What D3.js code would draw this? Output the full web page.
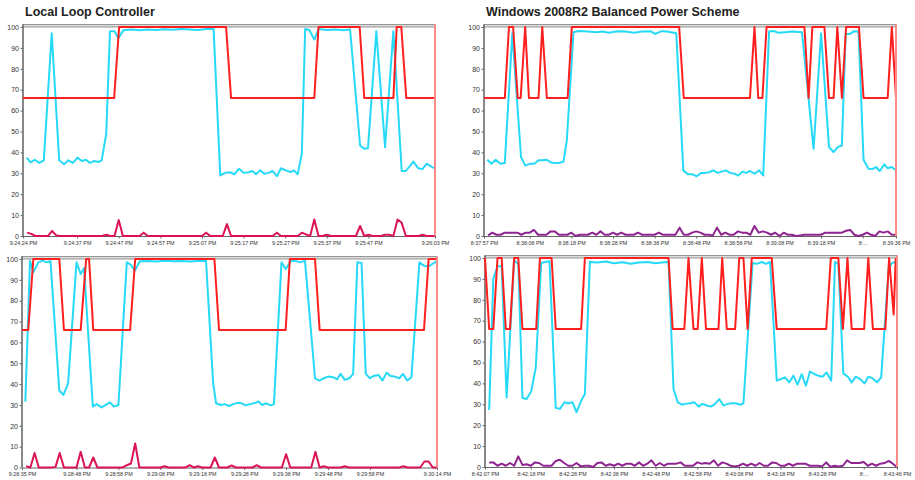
<!DOCTYPE html>
<html>
<head>
<meta charset="utf-8">
<script src="https://cdn.jsdelivr.net/npm/d3@7"></script>
<style>
  body { margin: 0; background: #fff; }
  svg { display: block; }
</style>
</head>
<body>
<div id="chart"></div>
<script>
// ---- data (seconds from window start, value in %) ----
var titles = ["Local Loop Controller", "Windows 2008R2 Balanced Power Scheme", "", ""];
var startTimes = ["9:24:24 PM", "8:37:57 PM", "9:28:35 PM", "8:42:07 PM"];
var endTimes = ["9:26:03 PM", "8:39:36 PM", "9:30:14 PM", "8:43:46 PM"];
var yTicks = [0, 10, 20, 30, 40, 50, 60, 70, 80, 90, 100];

var tickTimes1 = ["9:24:24 PM","9:24:37 PM","9:24:47 PM","9:24:57 PM","9:25:07 PM","9:25:17 PM","9:25:27 PM","9:25:37 PM","9:25:47 PM","9:26:03 PM"];
var tickLabels1 = tickTimes1;
var tickTimes2 = ["8:37:57 PM","8:38:08 PM","8:38:18 PM","8:38:28 PM","8:38:38 PM","8:38:48 PM","8:38:58 PM","8:39:08 PM","8:39:18 PM","8:39:28 PM","8:39:36 PM"];
var tickLabels2 = ["8:37:57 PM","8:38:08 PM","8:38:18 PM","8:38:28 PM","8:38:38 PM","8:38:48 PM","8:38:58 PM","8:39:08 PM","8:39:18 PM","8:...","8:39:36 PM"];
var tickTimes3 = ["9:28:35 PM","9:28:48 PM","9:28:58 PM","9:29:08 PM","9:29:18 PM","9:29:28 PM","9:29:38 PM","9:29:48 PM","9:29:58 PM","9:30:14 PM"];
var tickLabels3 = tickTimes3;
var tickTimes4 = ["8:42:07 PM","8:42:18 PM","8:42:28 PM","8:42:38 PM","8:42:48 PM","8:42:58 PM","8:43:08 PM","8:43:18 PM","8:43:28 PM","8:43:38 PM","8:43:46 PM"];
var tickLabels4 = ["8:42:07 PM","8:42:18 PM","8:42:28 PM","8:42:38 PM","8:42:48 PM","8:42:58 PM","8:43:08 PM","8:43:18 PM","8:43:28 PM","8:...","8:43:46 PM"];

// cpu usage (cyan)
var cpu1 = [[0.9,37.5],[1.8,35.2],[2.8,36.5],[3.9,35],[5,36.2],[6.9,97],[8.7,36.2],[9.9,34.3],[10.9,36.2],[12,35],[13.1,37.5],[14.1,35.9],[15.1,36.5],[16.1,35],[17.1,35.9],[18.1,35.4],[18.9,36.2],[20,48.9],[20.9,98],[22,98],[22.9,94.6],[24.1,98.4],[26,98.8],[28,98.5],[30,98.8],[32,98.6],[34,98.9],[36,98.7],[38,99],[40,98.8],[42,98.6],[44,99],[45.8,99],[47.4,29],[48.6,30.2],[49.8,30.5],[50.8,29.5],[51.9,32.2],[53,30.2],[54.2,30.5],[55.1,31.1],[56,29.5],[57,31.4],[58,29.8],[59,30.2],[60,31.1],[61,28.6],[62,32.4],[63.2,31.4],[64.2,30.6],[65.1,31.4],[66,29.5],[67,39.4],[67.8,99],[68.8,98.6],[70,94],[71,99],[73,98.6],[75,98.8],[77,98.5],[78.6,98.8],[81,43.3],[82,41.7],[82.9,42],[84.9,98],[87,42.5],[89,98],[91,31.1],[92,31.1],[93.8,35.6],[95,32.4],[96,32],[97,34.6],[98,33.3],[98.8,32.5]];
var cpu2 = [[0.8,36.5],[1.8,34.6],[2.8,36.5],[3.9,34.6],[5,34.9],[6.8,97],[8.9,37.8],[9.9,33.7],[11.1,34.6],[12.1,34.6],[13.1,36.2],[14,36.2],[15.1,36.5],[16.1,35.2],[17.1,34.9],[18,34.9],[19.1,35.6],[19.9,45.7],[21.5,97.5],[22.7,98.1],[25,97.8],[27,97.5],[28.5,97.8],[30,97.3],[32,98],[34,97.8],[36,97.3],[38,97.8],[40,98],[41.1,96.7],[42.7,98],[44,97.8],[46.2,97],[47.9,31.4],[49,29.5],[50.1,29.5],[51.1,28.6],[52.2,30.2],[53.1,30.2],[54.1,30.5],[55.1,31.4],[56.1,30.2],[57.1,30.8],[58.1,31.4],[59.1,30.2],[60.2,29.8],[61.1,28.9],[62.1,30.8],[63,30.2],[63.9,31.1],[65,29.8],[66.1,31.4],[67.1,29],[68.5,97.8],[69.6,98.1],[70.8,97.2],[72.4,97.5],[74,97.8],[76.4,97.5],[79.2,41.7],[81,97],[82.9,42.5],[84,40.2],[85,42.5],[86,43.3],[86.9,96.7],[88,96.7],[88.9,98],[90,97.8],[91.2,36.5],[92.4,32.2],[93.3,32],[94.2,33],[95.1,31.1],[96.2,34.3],[97,32.4],[98,33],[99,31.4]];
var cpu3 = [[0.8,31.6],[1.9,99.2],[2.7,93.6],[3.9,98.4],[4.9,99.2],[5.9,98.4],[6.8,98.9],[8.9,36.9],[9.9,34.8],[11,40.4],[13,98.4],[14,92.8],[14.8,95.7],[16.9,29.2],[17.8,30.4],[19,28.8],[20,30],[21,31.2],[21.9,29.2],[23,30],[25,98.4],[25.9,97.3],[26.9,94.4],[28.1,98.9],[30,99],[32,98.8],[34,99.2],[36,98.9],[38,99],[40,98.8],[42,99],[43.9,99],[45.6,40.4],[46.3,30.8],[47.4,30],[48.4,30.4],[49.4,29.5],[50.4,30.4],[51.4,31],[52.4,30.8],[53.4,29.8],[54.4,30.4],[55.3,30.8],[56.4,31.6],[57.3,30],[58.3,30.8],[59.3,29.8],[60.1,30.4],[61.9,98.4],[62.9,95.2],[64.1,98.9],[65.1,99.2],[66.3,98.4],[67.5,99.2],[69.9,42.8],[70.9,41.7],[72,42.8],[73,43.6],[74.2,43.3],[75.2,42.3],[76,44.9],[77,42],[78.1,42.8],[79,44.9],[80,98.4],[81,98.1],[82,44.9],[83,42.8],[83.9,43.9],[85,44.4],[86,41.7],[87,45.5],[87.9,43.9],[88.9,43.6],[90,42.8],[90.9,44.9],[91.9,41.7],[92.9,43.3],[94.8,98.4],[95.9,96.8],[96.9,96.3],[97.9,97.6],[98.9,98.9]];
var cpu4 = [[1,27.3],[2,90],[3,96],[4,96],[5.2,33.3],[7,99],[8,97],[9,33],[10,32.5],[11.1,36.2],[12.2,47.6],[13.5,97.6],[14.4,98.1],[15.5,98.4],[17,28.3],[18,27.8],[19.1,31],[20,30.5],[21,31],[22,26.2],[23.1,31.7],[24,34.9],[25.2,98.1],[27,97.8],[29,98.3],[31,97.5],[33,98],[35,97.3],[37,97.8],[39,98.1],[41,97.5],[43,98],[44.1,98.1],[45.3,37.3],[46.3,31],[47.3,29.8],[48.2,30.2],[49.3,30.5],[50.3,31],[51.3,28.9],[52.2,30.2],[53.3,29.4],[54.3,28.9],[55.3,30.2],[56.3,32.5],[57.3,29.4],[58.3,30.2],[59.3,30.5],[60.3,30.5],[61.3,29.8],[62.1,30.5],[64.3,97.6],[65.3,97.2],[66.5,98.1],[67.5,97.2],[68.5,98.1],[70.1,41.3],[71.2,42.1],[72.1,42.9],[73.1,40.5],[74.1,43.7],[75.1,39.4],[76.1,44.4],[77.1,38.9],[78.1,45.7],[79.2,44.4],[80.1,43.7],[81.1,43.2],[82.1,45.2],[83.2,41.3],[84.1,98.1],[84.9,97.2],[86.1,44.8],[87.2,43.2],[88.1,40.5],[89.1,43.2],[90.1,42.1],[91.2,40],[92.1,43.2],[93.1,42.5],[94.2,40.5],[95.2,42.9],[97,95.2],[97.8,97.6],[98.7,98.1]];

// processor frequency (red)
var freq1 = [[0,66],[21.9,66],[23.1,100],[48.8,100],[50,66],[70,66],[71,100],[80.9,100],[82,66],[89,66],[89.8,100],[90.9,100],[92.1,66],[99,66]];
var freq2 = [[0,66],[5,66],[6,100],[7,100],[8.1,66],[8.8,66],[9.9,100],[10.8,66],[13.1,66],[14,100],[15.1,66],[20.1,66],[21.1,100],[46.9,100],[48,66],[63.9,66],[65,100],[65.9,66],[66.9,66],[67.9,100],[77,100],[78,66],[78.9,100],[81.8,100],[82.9,66],[84,66],[84.9,100],[86,66],[87,100],[90.1,100],[91.2,66],[97,66],[98,100],[99,66]];
var freq3 = [[0,66],[1.5,66],[2.7,100],[8.9,100],[10,66],[14,66],[15.3,100],[16,100],[17,66],[25.8,66],[27,100],[45.9,100],[47,66],[62.9,66],[63.9,100],[69.9,100],[71,66],[95.9,66],[97,100],[99,100]];
var freq4 = [[0,100],[1,66],[2,66],[3,100],[4,100],[5,66],[6,66],[7,100],[8,100],[9,66],[12.3,66],[13.2,100],[16,100],[17,66],[23.1,66],[24,100],[44.1,100],[45.1,66],[47.9,66],[48.9,100],[50.1,66],[51.1,66],[52.1,100],[53.1,66],[56.1,66],[57,100],[58.1,66],[60.1,66],[61.1,100],[62.1,100],[63.1,66],[64.1,100],[68.9,100],[70.1,66],[82,66],[83.1,100],[84.9,100],[86,66],[87.1,100],[88.1,66],[91.1,66],[92.1,100],[93.2,66],[96.2,66],[97.1,100],[98.2,73],[98.7,100]];

// third counter, one sample per second from t = 1 s
var low1 = [1.6,1,0,0,0,0,2.4,0.3,0,0, 0,0,0,0,0,0,0,0,0,0.6, 0,0,7.6,0,0,0,0,0,1.6,0, 0,0,0,0,0,0,0,0,0,0, 0,0,0,1.6,0,0,0,0,5.7,0, 0,0,0,0,0,0,0,0,0,0, 1.6,0,0,0,0,0,1.6,0.8,0,7.9, 0,0,0.6,0,0,0,0,0,0,0, 4.8,0,0.6,0,0,0,0.6,0.6,0,7.9, 6.3,0,0,0,0,0.6,0,0,0];
var low2 = [0.3,1.6,0.6,0.6,1.6,1.6,1.6,1.6,0.6,1.6, 1.6,2.9,0.6,0.6,0.6,2.2,2.2,0.6,0.6,0.6, 1.6,0,0.6,0.6,0.6,1.6,0.6,2.2,0.6,0.6, 1.6,0.6,1.6,0.6,0.6,0.6,1.6,0.6,0.6,0.6, 0.6,1.6,0.6,0.6,0.6,0.6,4,0.6,0.6,1.6, 2.2,1.6,0.6,0.6,0.3,4,0.6,1.6,0.6,0.6, 2.2,1.6,1.6,0.6,4.8,1.6,2.2,1.6,0.6,1.6, 0,1.6,0.6,0.6,0,0.3,0.6,0.6,0.6,0.6, 0.6,1.6,1.6,1.6,1.6,1.6,2.5,2.9,0.6,0, 0.6,1.6,0.6,0,2.2,1.6,2.2,0.6,0.6];
var low3 = [0.6,0,7,0,0,0,0,0.3,7,0, 0,0,0,7.5,0,0,4.8,0,0,0, 0,0,0,0,1.1,1.9,11.5,0,0,0, 0,0,0,0.6,0,0,0,0,0,1.1, 0,0.6,0,0,0,4.8,0,0,0,1, 0,0,0,0,0,1.1,0,0,0,0, 0,0,6.4,0,0,0,0,0,0,7.5, 0,0.6,0,0,0,0,0.6,0,0,0, 0,0,0,0,0,0,0,0,0,0, 0.6,0,0,0,0,2.9,2.9,0,0];
var low4 = [2.2,2.2,0.6,1.6,0.6,1.9,0.6,5.1,1,1.3, 0.6,2.2,1.9,0.6,0.6,0.6,2.9,3.5,1.9,0.6, 0.6,1.9,0.3,0.6,0.6,0,1.9,2.2,0.6,1.3, 0.6,1.6,0.6,1.6,1.6,0.6,2.2,0.6,1.6,3.2, 0.6,1.9,0.6,1.6,1.6,1.6,2.2,0.6,0.6,0.6, 2.2,1.6,1.9,1.6,3.2,0.6,2.2,1.6,0.6,0.3, 0.6,1.6,0.6,1.6,0.6,1.9,0.6,0.6,2.2,1.9, 0.6,0.6,1.6,0.6,1.6,1.6,1.6,0.6,0.6,0.6, 0.3,2.2,0,0.6,0.3,0.6,3.2,1.9,1.9,1.9, 2.4,0.6,1.6,0.6,1.6,1.9,2.9,1.6,0];

// ---- layout ----
var panels = [
  { left: 23, right: 435, top: 27, bottom: 236, titleX: 25, cpu: cpu1, freq: freq1, low: low1, lowColour: "#dc1452", ticks: tickTimes1, labels: tickLabels1 },
  { left: 484, right: 896, top: 27, bottom: 236, titleX: 486, cpu: cpu2, freq: freq2, low: low2, lowColour: "#8e2590", ticks: tickTimes2, labels: tickLabels2 },
  { left: 22, right: 437, top: 259, bottom: 467.5, titleX: 25, cpu: cpu3, freq: freq3, low: low3, lowColour: "#dc1452", ticks: tickTimes3, labels: tickLabels3 },
  { left: 485, right: 897, top: 258, bottom: 467, titleX: 486, cpu: cpu4, freq: freq4, low: low4, lowColour: "#8e2590", ticks: tickTimes4, labels: tickLabels4 }
];

var parseTime = d3.timeParse("%I:%M:%S %p");

var svg = d3.select("#chart")
    .append("svg")
    .attr("width", 915)
    .attr("height", 480);

panels.forEach(function(p, i){
    var t0 = parseTime(startTimes[i]);
    var at = function(s){ return new Date(t0.getTime() + s * 1000); };

    var x = d3.scaleTime()
        .domain([t0, parseTime(endTimes[i])])
        .range([p.left, p.right]);
    var y = d3.scaleLinear()
        .domain([0, 100])
        .range([p.bottom, p.top]);

    var g = svg.append("g");

    if (titles[i]) {
        g.append("text")
            .attr("x", p.titleX)
            .attr("y", 15.5)
            .style("font-family", "'Liberation Sans', Arial, sans-serif")
            .style("font-weight", "bold")
            .style("font-size", "12.5px")
            .style("fill", "#222")
            .text(titles[i]);
    }

    // top band at 100
    g.append("rect")
        .attr("x", p.left)
        .attr("y", p.top - 2.5)
        .attr("width", p.right - p.left)
        .attr("height", 2.5)
        .style("fill", "#dcdcdc")
        .style("stroke", "#808080")
        .style("stroke-width", 0.8);

    // y axis
    var yAxis = g.append("g")
        .attr("transform", "translate(" + p.left + ",0)")
        .call(d3.axisLeft(y).tickValues(yTicks).tickSize(2.5).tickPadding(1.5).tickSizeOuter(0));
    yAxis.select(".domain").remove();
    yAxis.selectAll("line").style("stroke", "#666");
    yAxis.selectAll("text")
        .style("font-family", "'Liberation Sans', Arial, sans-serif")
        .style("font-size", "7px")
        .style("fill", "#333");

    // x axis
    var xAxis = g.append("g")
        .attr("transform", "translate(0," + p.bottom + ")")
        .call(d3.axisBottom(x)
            .tickValues(p.ticks.map(parseTime))
            .tickFormat(function(d, k){ return p.labels[k]; })
            .tickSize(2.5).tickPadding(2).tickSizeOuter(0));
    xAxis.select(".domain").style("stroke", "#666");
    xAxis.selectAll("line").style("stroke", "#666");
    xAxis.selectAll("text")
        .style("font-family", "'Liberation Sans', Arial, sans-serif")
        .style("font-size", "6.2px")
        .style("fill", "#333")
        .each(function(){
            var w = this.getComputedTextLength();
            d3.select(this).attr("textLength", w * 0.87).attr("lengthAdjust", "spacingAndGlyphs");
        });

    g.append("line")
        .attr("x1", p.left).attr("x2", p.left)
        .attr("y1", p.top - 2.5).attr("y2", p.bottom)
        .style("stroke", "#6a6a6a")
        .style("stroke-width", 1.6);

    var line = d3.line()
        .x(function(d){ return x(at(d[0])); })
        .y(function(d){ return y(d[1]); });

    g.append("path")
        .datum(p.cpu)
        .attr("d", line)
        .style("fill", "none")
        .style("stroke", "#26d9f7")
        .style("stroke-width", 2)
        .style("stroke-linejoin", "round");

    g.append("path")
        .datum(p.freq)
        .attr("d", line)
        .style("fill", "none")
        .style("stroke", "#ff1f1f")
        .style("stroke-width", 2)
        .style("stroke-linejoin", "round");

    g.append("path")
        .datum(p.low.map(function(v, k){ return [k + 1, v]; }))
        .attr("d", line)
        .style("fill", "none")
        .style("stroke", p.lowColour)
        .style("stroke-width", 2)
        .style("stroke-linejoin", "round");

    // current-time marker
    g.append("line")
        .attr("x1", p.right).attr("x2", p.right)
        .attr("y1", p.top - 2.5).attr("y2", p.bottom)
        .style("stroke", "#ff8a8a")
        .style("stroke-width", 2);
});
</script>
</body>
</html>
